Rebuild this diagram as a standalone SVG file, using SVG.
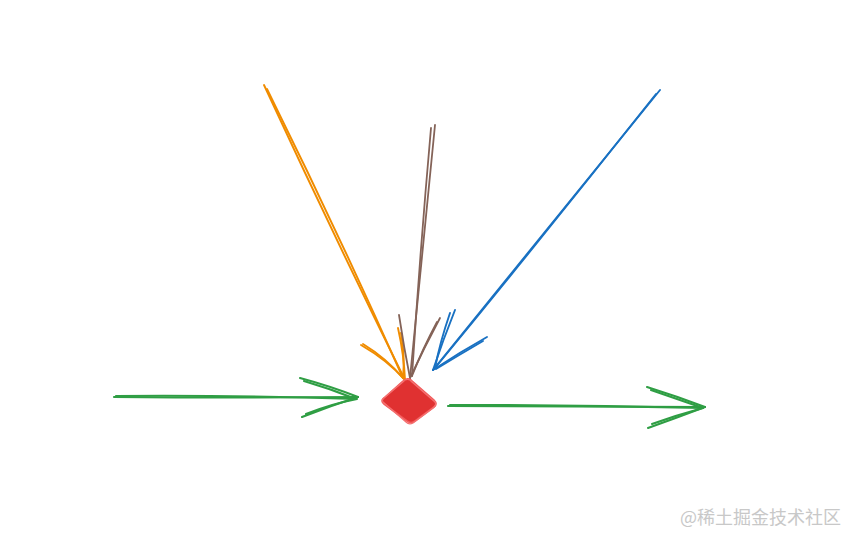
<svg xmlns="http://www.w3.org/2000/svg" width="845" height="535" viewBox="0 0 845 535">
<style>
.s{fill:none;stroke-linecap:round;stroke-linejoin:round}
.o{stroke:#f08c00;stroke-width:1.9}
.b{stroke:#846358;stroke-width:1.8}
.u{stroke:#1971c2;stroke-width:1.9}
.g{stroke:#2f9e44;stroke-width:2.1}
.wm{font-family:"Noto Sans CJK SC","Liberation Sans",sans-serif;font-size:18px;fill:#c8c8c8}
</style>
<rect width="845" height="535" fill="#ffffff"/>
<g id="connectors">
  <g id="arrow-orange">
    <path class="s o" d="M264 85 Q332 232 405 380"/>
    <path class="s o" d="M267 89 Q338 232 403 378"/>
    <path class="s o" d="M361 345 Q387 360 405 380"/>
    <path class="s o" d="M363 344 Q386 358 403 378"/>
    <path class="s o" d="M398 328 Q404 355 405 380"/>
    <path class="s o" d="M401 333 Q405 356 403 378"/>
  </g>
  <g id="arrow-brown">
    <path class="s b" d="M435 125 Q423 252 410 378"/>
    <path class="s b" d="M431 128 Q420 252 412 376"/>
    <path class="s b" d="M399 315 Q404 348 410 378"/>
    <path class="s b" d="M440 318 Q424 348 410 378"/>
    <path class="s b" d="M437 322 Q422 350 412 376"/>
  </g>
  <g id="arrow-blue">
    <path class="s u" d="M660 90 Q546 230 433 370"/>
    <path class="s u" d="M656 94 Q546 233 435 368"/>
    <path class="s u" d="M455 310 Q443 340 433 370"/>
    <path class="s u" d="M450 313 Q440 342 435 368"/>
    <path class="s u" d="M487 337 Q460 352 433 370"/>
    <path class="s u" d="M483 341 Q459 355 436 369"/>
  </g>
  <g id="arrow-green-left">
    <path class="s g" d="M114 397 Q236 398 358 397"/>
    <path class="s g" d="M116 396 Q236 395 356 399"/>
    <path class="s g" d="M300 378 Q330 386 358 397"/>
    <path class="s g" d="M304 381 Q331 389 356 399"/>
    <path class="s g" d="M302 417 Q330 406 358 397"/>
    <path class="s g" d="M306 414 Q331 404 357 399"/>
  </g>
  <g id="arrow-green-right">
    <path class="s g" d="M448 406 Q576 407 705 407"/>
    <path class="s g" d="M450 405 Q577 405 703 408"/>
    <path class="s g" d="M647 387 Q676 396 705 407"/>
    <path class="s g" d="M651 390 Q677 399 703 408"/>
    <path class="s g" d="M648 428 Q676 418 705 407"/>
    <path class="s g" d="M652 424 Q677 415 703 408"/>
  </g>
</g>
<g id="node-diamond">
  <path d="M403 381 Q407 377 411 380 L434 400 Q438 404 434 407 L415 421 Q411 424 407 421 L384 404 Q380 401 384 398 Z" fill="#e03131"/>
  <path class="s" d="M403 381 Q407 377 411 380 L434 400 Q438 404 434 407 L415 421 Q411 424 407 421 L384 404 Q380 401 384 398 Z" stroke="#f25a5a" stroke-width="1.6"/>
  <path class="s" d="M405 380 Q409 378 412 382 L435 402 Q437 405 433 408 L413 423 Q409 425 406 422 L383 402 Q381 399 385 397 L404 381" stroke="#f47070" stroke-width="1.3"/>
</g>
<text class="wm" x="680" y="524">@稀土掘金技术社区</text>
</svg>
